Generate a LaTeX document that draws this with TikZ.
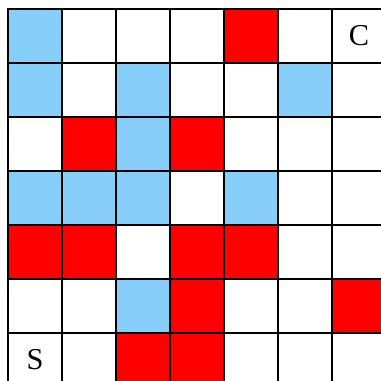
\documentclass[tikz,border=0pt]{standalone}
\usepackage{fontspec}
\setmainfont{Liberation Serif}
\definecolor{B}{RGB}{135,206,250}
\definecolor{R}{RGB}{255,0,0}
\colorlet{W}{white}
\begin{document}
\begin{tikzpicture}[
  cell/.style={draw=black, line width=0.55pt, minimum size=1cm, inner sep=0pt, outer sep=0pt, anchor=center},
  lbl/.style={font=\fontsize{16}{18}\selectfont}
]
\useasboundingbox[fill=white] (-0.148,0.111) rectangle (6.907,7.167);
\foreach \row [count=\r from 0] in {{B,W,W,W,R,W,W},{B,W,B,W,W,B,W},{W,R,B,R,W,W,W},{B,B,B,W,B,W,W},{R,R,W,R,R,W,W},{W,W,B,R,W,W,R},{W,W,R,R,W,W,W}}{
  \foreach \col [count=\c from 0] in \row {
    \node[cell, fill=\col] (c-\r-\c) at (\c+0.5, 6.5-\r) {};
  }
}
\node[lbl] (C) at (c-0-6) {C};
\node[lbl] (S) at (c-6-0) {S};
\end{tikzpicture}
\end{document}
